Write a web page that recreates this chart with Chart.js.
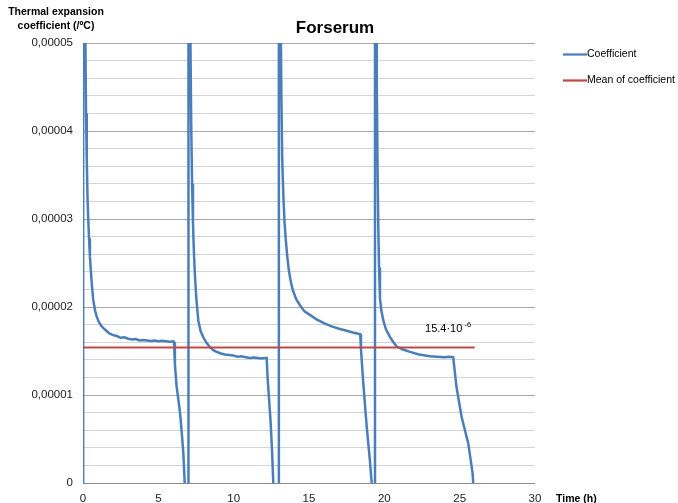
<!DOCTYPE html>
<html>
<head>
<meta charset="utf-8">
<script src="https://cdn.jsdelivr.net/npm/chart.js@4/dist/chart.umd.min.js"></script>
<style>
  html, body { margin: 0; padding: 0; background: #ffffff; }
  canvas { display: block; }
</style>
</head>
<body>
<canvas id="chart" width="678" height="503"></canvas>
<script>
// Thermal expansion coefficient of Forserum over four heating cycles.
// Coefficient values are in units of 1e-6 /ºC; time is in hours.
// Values outside 0..50 run off the plot and are clipped at its edge.

const cycle1Hours  = [0, 0.01, 0.15, 0.20, 0.25, 0.30, 0.35, 0.40, 0.46, 0.52, 0.58, 0.68, 0.80, 0.91, 1.05, 1.20, 1.35, 1.55, 1.75, 2.00, 2.25, 2.50, 2.75, 3.00, 3.25, 3.50, 3.75, 4.00, 4.25, 4.50, 4.75, 5.00, 5.25, 5.50, 5.75, 6.00, 6.04, 6.10, 6.21, 6.32, 6.44, 6.55, 6.66, 6.75, 6.85];
const cycle1Values = [0, 300, 52, 42, 36.7, 32.5, 29.9, 27.8, 25.7, 24.2, 22.7, 20.8, 19.6, 18.9, 18.3, 17.9, 17.6, 17.3, 17.0, 16.8, 16.7, 16.5, 16.55, 16.4, 16.3, 16.35, 16.2, 16.25, 16.2, 16.15, 16.2, 16.1, 16.15, 16.1, 16.05, 16.1, 16.0, 13.5, 11.0, 9.6, 8.0, 5.8, 3.4, 0, -10];

const cycle2Hours  = [6.98, 7.00, 7.12, 7.18, 7.24, 7.30, 7.36, 7.43, 7.52, 7.65, 7.80, 8.00, 8.21, 8.45, 8.65, 8.87, 9.10, 9.40, 9.70, 9.97, 10.25, 10.50, 10.80, 11.08, 11.35, 11.60, 11.85, 12.05, 12.19, 12.25, 12.35, 12.45, 12.55, 12.63, 12.70];
const cycle2Values = [-10, 300, 52, 41, 34, 29.5, 26.3, 23.6, 21.0, 18.5, 17.3, 16.5, 15.9, 15.4, 15.1, 14.9, 14.75, 14.6, 14.55, 14.5, 14.35, 14.4, 14.3, 14.2, 14.25, 14.2, 14.15, 14.2, 14.2, 12.0, 9.5, 7.0, 3.6, 0, -10];

const cycle3Hours  = [12.98, 13.00, 13.10, 13.16, 13.22, 13.30, 13.38, 13.46, 13.56, 13.66, 13.80, 13.93, 14.15, 14.40, 14.70, 15.06, 15.50, 16.06, 16.50, 17.05, 17.50, 17.90, 18.20, 18.40, 18.45, 18.60, 18.83, 19.04, 19.16, 19.22];
const cycle3Values = [-10, 300, 58, 45, 37, 32.5, 29.5, 27.6, 25.7, 24.2, 22.8, 21.9, 20.9, 20.2, 19.5, 19.1, 18.6, 18.1, 17.8, 17.5, 17.3, 17.1, 17.0, 16.9, 15.2, 11.4, 6.4, 2.6, 0, -10];

const cycle4Hours  = [19.36, 19.38, 19.45, 19.50, 19.55, 19.60, 19.65, 19.71, 19.80, 19.93, 20.10, 20.37, 20.60, 20.82, 21.20, 21.70, 22.30, 23.03, 23.50, 24.00, 24.30, 24.57, 24.62, 24.79, 25.13, 25.57, 25.86, 25.90];
const cycle4Values = [-10, 300, 60, 45, 36, 29, 24.5, 21.0, 19.6, 18.5, 17.5, 16.6, 16.0, 15.5, 15.2, 14.9, 14.6, 14.4, 14.35, 14.3, 14.35, 14.3, 14.3, 10.9, 7.5, 4.5, 1.1, 0];

// Mean coefficient (×1e-6) and the time span it is drawn over
const meanCoefficient = 15.4;
const meanSpanHours = [0, 26];

// Axis ticks
const xTickHours = [0, 5, 10, 15, 20, 25, 30];
const yLabelValues = [0, 0.00001, 0.00002, 0.00003, 0.00004, 0.00005];
const yGridStep = 0.000002;

const seriesNames = ['Coefficient', 'Mean of coefficient'];
const chartTitle = 'Forserum';
const yTitleLines = ['Thermal expansion', 'coefficient (/ºC)'];
const xTitle = 'Time (h)';
const meanLabelAt = { hours: 22.7, value: 17.55 };

const MICRO = 1e-6;
const toPoints = (hours, values) => hours.map((h, i) => ({ x: h, y: values[i] * MICRO }));

const coefficientPoints = [
  ...toPoints(cycle1Hours, cycle1Values),
  ...toPoints(cycle2Hours, cycle2Values),
  ...toPoints(cycle3Hours, cycle3Values),
  ...toPoints(cycle4Hours, cycle4Values)
];
const meanPoints = meanSpanHours.map(h => ({ x: h, y: meanCoefficient * MICRO }));

const BLUE = '#4a7ebb';
const RED = '#be4b48';
const FONT = '"Liberation Sans", Arial, sans-serif';

const isLabelled = v => yLabelValues.some(l => Math.abs(l - v) < 1e-9);
const formatY = v => (Math.abs(v) < 1e-12 ? '0' : v.toFixed(5).replace('.', ','));

const textPlugin = {
  id: 'chartTexts',
  afterDraw(chart) {
    const ctx = chart.ctx;
    const xs = chart.scales.x, ys = chart.scales.y;
    ctx.save();
    ctx.fillStyle = '#000000';
    ctx.textBaseline = 'middle';

    // Title
    ctx.font = 'bold 17px ' + FONT;
    ctx.textAlign = 'center';
    ctx.fillText(chartTitle, 335, 28);

    // Value-axis title, two centred lines above the axis
    ctx.font = 'bold 10.5px ' + FONT;
    ctx.fillText(yTitleLines[0], 56, 12);
    ctx.fillText(yTitleLines[1], 56, 26);

    // Time-axis title beside the last tick
    ctx.textAlign = 'left';
    ctx.fillText(xTitle, 556, 499);

    // Legend
    ctx.font = '10.5px ' + FONT;
    chart.data.datasets.forEach((ds, i) => {
      const ly = 54.5 + i * 26;
      ctx.strokeStyle = ds.borderColor;
      ctx.lineWidth = 2.25;
      ctx.beginPath();
      ctx.moveTo(563, ly);
      ctx.lineTo(587, ly);
      ctx.stroke();
      ctx.fillStyle = '#000000';
      ctx.fillText(ds.label, 587, ly);
    });

    // Mean value label: 15.4·10^-6
    const ax = xs.getPixelForValue(meanLabelAt.hours);
    const ay = ys.getPixelForValue(meanLabelAt.value * MICRO);
    ctx.font = '11px ' + FONT;
    const base = meanCoefficient.toFixed(1) + '·10';
    ctx.fillText(base, ax, ay);
    const w = ctx.measureText(base).width;
    ctx.font = '7.5px ' + FONT;
    ctx.fillText(' -6', ax + w, ay - 4);
    ctx.restore();
  }
};

new Chart(document.getElementById('chart'), {
  type: 'scatter',
  data: {
    datasets: [
      {
        label: seriesNames[0],
        data: coefficientPoints,
        showLine: true,
        borderColor: BLUE,
        backgroundColor: BLUE,
        borderWidth: 2.5,
        pointRadius: 0,
        pointHoverRadius: 0,
        tension: 0,
        order: 2
      },
      {
        label: seriesNames[1],
        data: meanPoints,
        showLine: true,
        borderColor: RED,
        backgroundColor: RED,
        borderWidth: 2,
        pointRadius: 0,
        pointHoverRadius: 0,
        tension: 0,
        order: 1
      }
    ]
  },
  options: {
    responsive: false,
    animation: false,
    devicePixelRatio: 1,
    layout: { padding: { left: 0, top: 43, right: 143, bottom: 0 } },
    plugins: {
      legend: { display: false },
      title: { display: false },
      tooltip: { enabled: false }
    },
    scales: {
      x: {
        type: 'linear',
        min: 0,
        max: 30,
        afterBuildTicks: scale => { scale.ticks = xTickHours.map(v => ({ value: v })); },
        afterFit: scale => { scale.height = 20; },
        grid: { display: false, drawTicks: false },
        border: { display: false },
        ticks: {
          padding: 9,
          color: '#222222',
          font: { family: FONT, size: 11.5 },
          maxRotation: 0,
          autoSkip: false
        }
      },
      y: {
        type: 'linear',
        min: 0,
        max: 0.00005,
        afterFit: scale => { scale.width = 83; },
        grid: {
          drawTicks: false,
          lineWidth: 1,
          color: c => {
            const v = c.tick.value;
            if (Math.abs(v) < 1e-12) return '#8a8a8a';
            return isLabelled(v) ? '#a8a8a8' : '#d4d4d4';
          }
        },
        border: { display: false },
        ticks: {
          stepSize: yGridStep,
          autoSkip: false,
          padding: 10,
          color: '#222222',
          font: { family: FONT, size: 11.5 },
          callback: v => (isLabelled(v) ? formatY(v) : '')
        }
      }
    }
  },
  plugins: [textPlugin]
});
</script>
</body>
</html>
